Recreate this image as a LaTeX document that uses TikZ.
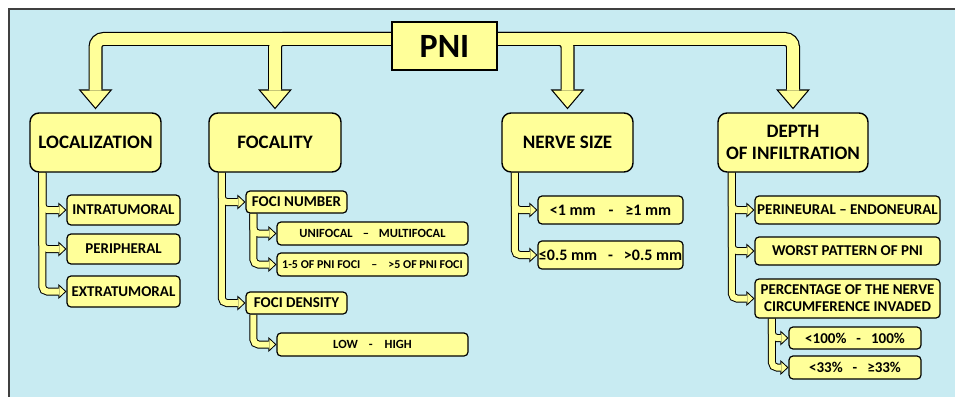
\documentclass[tikz,border=0pt]{standalone}
\usepackage{fontspec}
\setmainfont{Carlito}
\usetikzlibrary{positioning,arrows.meta}

\definecolor{panelblue}{RGB}{200,235,242}
\definecolor{boxyellow}{RGB}{255,255,153}

\pgfdeclarelayer{panel}
\pgfdeclarelayer{links}
\pgfsetlayers{panel,links,main}

% all connectors, drawn once as black edge and once as yellow core
\newcommand\pnilinks[2]{%
  \draw[#1] (hub) -| ([yshift=3pt]loc.north);
  \draw[#1] (hub) -| ([yshift=3pt]foc.north);
  \draw[#1] (hub) -| ([yshift=3pt]nsize.north);
  \draw[#1] (hub) -| ([yshift=3pt]depth.north);
  \draw[#2] ([xshift=13pt]loc.south west) |- (intra);
  \draw[#2] ([xshift=13pt]loc.south west) |- (periph);
  \draw[#2] ([xshift=13pt]loc.south west) |- (extra);
  \draw[#2] ([xshift=13.5pt]foc.south west) |- (fnumber);
  \draw[#2] ([xshift=13.5pt]foc.south west) |- (fdensity);
  \draw[#2] ([xshift=8pt]fnumber.south west) |- (unifocal);
  \draw[#2] ([xshift=8pt]fnumber.south west) |- (pnifoci);
  \draw[#2] ([xshift=8pt]fdensity.south west) |- (lowhigh);
  \draw[#2] ([xshift=13.5pt]nsize.south west) |- (sizeone);
  \draw[#2] ([xshift=13.5pt]nsize.south west) |- (sizehalf);
  \draw[#2] ([xshift=14.5pt]depth.south west) |- (perineural);
  \draw[#2] ([xshift=14.5pt]depth.south west) |- (worst);
  \draw[#2] ([xshift=14.5pt]depth.south west) |- (percent);
  \draw[#2] ([xshift=17.5pt]percent.south west) |- (hundred);
  \draw[#2] ([xshift=17.5pt]percent.south west) |- (third);
}

\begin{document}
\begin{tikzpicture}[
  x=1pt, y=1pt,
  title/.style={
    draw,
    line width=2.4pt,
    fill=boxyellow,
    minimum width=105pt,
    minimum height=48pt,
    font=\fontsize{34}{36}\selectfont\bfseries
  },
  topic/.style={
    draw,
    line width=1.4pt,
    fill=boxyellow,
    rounded corners=9pt,
    align=center,
    minimum height=59pt,
    font=\fontsize{19}{22}\selectfont\bfseries
  },
  item/.style={
    draw,
    line width=1.2pt,
    fill=boxyellow,
    rounded corners=4pt,
    align=center,
    inner sep=1pt,
    font=\fontsize{15}{17}\selectfont\bfseries
  },
  small/.style={font=\fontsize{12.5}{14}\selectfont\bfseries},
  tiny/.style={font=\fontsize{12}{14}\selectfont\bfseries},
  large/.style={font=\fontsize{16}{18}\selectfont\bfseries},
  trunkedge/.style={draw=black, line width=14pt, rounded corners=8pt,
    -{Triangle[length=20pt,width=34pt,line width=0pt]}},
  trunkcore/.style={draw=boxyellow, line width=11.6pt, rounded corners=8pt,
    shorten >=1.85pt, -{Triangle[length=16.95pt,width=28.8pt,line width=0pt]}},
  twigedge/.style={draw=black, line width=8pt, rounded corners=5pt,
    -{Triangle[length=8pt,width=15pt,line width=0pt]}},
  twigcore/.style={draw=boxyellow, line width=6pt, rounded corners=5pt,
    shorten >=1.46pt, -{Triangle[length=5.5pt,width=10.4pt,line width=0pt]}}
]
  \useasboundingbox (0,0) rectangle (955,-396);
  \begin{pgfonlayer}{panel}
    \fill[white] (0,0) rectangle (955,-396);
    \filldraw[fill=panelblue, draw=black!75, line width=1.5pt] (9,-9) rectangle (975,-416);
  \end{pgfonlayer}

  \node[title] (pni) at (444.5,-46) {PNI};
  \coordinate (hub) at (444.5,-39);

  \node[topic, minimum width=131pt] (loc) at (95.5,-142.5) {LOCALIZATION};
  \node[topic, minimum width=132pt] (foc) at (275,-142.5) {FOCALITY};
  \node[topic, minimum width=131pt] (nsize) at (567.5,-142.5) {NERVE SIZE};
  \node[topic, minimum width=150pt] (depth) at (793,-142.5) {DEPTH\\OF INFILTRATION};

  \node[item, minimum width=113pt, minimum height=30pt] (intra) at (123.5,-210) {INTRATUMORAL};
  \node[item, minimum width=113pt, minimum height=30pt] (periph) at (123.5,-249) {PERIPHERAL};
  \node[item, minimum width=113pt, minimum height=31pt] (extra) at (123.5,-291.5) {EXTRATUMORAL};

  \node[item, minimum width=101pt, minimum height=22pt] (fnumber) at (296.5,-202) {FOCI NUMBER};
  \node[item, small, minimum width=191pt, minimum height=23pt] (unifocal) at (372.5,-233.5) {UNIFOCAL\hspace{10pt}--\hspace{10pt}MULTIFOCAL};
  \node[item, tiny, minimum width=191pt, minimum height=23pt] (pnifoci) at (372.5,-264.5) {1-5 OF PNI FOCI\hspace{11pt}--\hspace{11pt}>5 OF PNI FOCI};
  \node[item, minimum width=101pt, minimum height=22pt] (fdensity) at (296.5,-303) {FOCI DENSITY};
  \node[item, small, minimum width=191pt, minimum height=23pt] (lowhigh) at (372.5,-344.5) {LOW\hspace{11pt}-\hspace{12pt}HIGH};

  \node[item, large, minimum width=145pt, minimum height=28pt] (sizeone) at (610.5,-210) {<1 mm\hspace{13pt}-\hspace{12pt}≥1 mm};
  \node[item, large, minimum width=145pt, minimum height=28pt] (sizehalf) at (610.5,-255) {≤0.5 mm\hspace{11pt}-\hspace{11pt}>0.5 mm};

  \node[item, minimum width=185pt, minimum height=28pt] (perineural) at (847.5,-210) {PERINEURAL -- ENDONEURAL};
  \node[item, minimum width=185pt, minimum height=28pt] (worst) at (847.5,-251) {WORST PATTERN OF PNI};
  \node[item, minimum width=185pt, minimum height=39pt] (percent) at (847.5,-298.5) {PERCENTAGE OF THE NERVE\\CIRCUMFERENCE INVADED};
  \node[item, minimum width=132pt, minimum height=22pt] (hundred) at (855,-338) {<100\%\hspace{10pt}-\hspace{10pt}100\%};
  \node[item, minimum width=132pt, minimum height=23pt] (third) at (855,-367.5) {<33\%\hspace{10pt}-\hspace{10pt}≥33\%};

  \begin{pgfonlayer}{links}
    \pnilinks{trunkedge}{twigedge}
    \pnilinks{trunkcore}{twigcore}
  \end{pgfonlayer}
\end{tikzpicture}
\end{document}
